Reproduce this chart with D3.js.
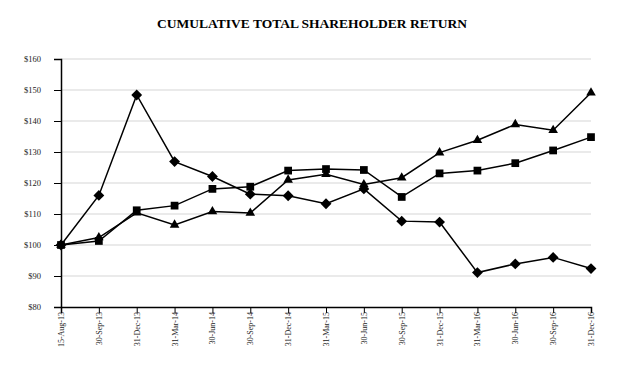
<!DOCTYPE html>
<html><head><meta charset="utf-8">
<script src="https://cdn.jsdelivr.net/npm/d3@7"></script>
<style>body{margin:0;background:#fff}</style>
</head><body>
<svg id="c" width="624" height="381"></svg>
<script>
const categories = ["15-Aug-13","30-Sep-13","31-Dec-13","31-Mar-14","30-Jun-14","30-Sep-14","31-Dec-14","31-Mar-15","30-Jun-15","30-Sep-15","31-Dec-15","31-Mar-16","30-Jun-16","30-Sep-16","31-Dec-16"];
const diamondValues = [100,116,148.4,126.9,122.1,116.4,115.9,113.3,118.1,107.7,107.4,91.1,93.9,96.0,92.4];
const squareValues = [100,101.3,111.2,112.7,118.1,118.8,124.0,124.5,124.2,115.5,123.1,124.0,126.4,130.5,134.8];
const triangleValues = [100,102.4,110.4,106.5,110.8,110.3,121.0,122.8,119.5,121.7,129.8,133.8,138.9,137.0,149.1];
const yTicks = [80,90,100,110,120,130,140,150,160];

const svg = d3.select("#c");
const x = d3.scalePoint().domain(categories).range([61, 591]);
const y = d3.scaleLinear().domain([80,160]).range([307, 59]);

svg.append("text").attr("x", 312).attr("y", 28).attr("text-anchor","middle")
  .attr("font-family","Liberation Serif, Times New Roman, serif").attr("font-weight","bold")
  .attr("font-size", 13.5).text("CUMULATIVE TOTAL SHAREHOLDER RETURN");

// grid
svg.append("g").selectAll("line").data(yTicks.filter(d=>d>80)).join("line")
  .attr("x1", 61).attr("x2", 591).attr("y1", d=>y(d)).attr("y2", d=>y(d))
  .attr("stroke","#e3e3e3").attr("stroke-width",1.5);

const yAxis = svg.append("g").attr("transform","translate(61,0)")
  .call(d3.axisLeft(y).tickValues(yTicks).tickFormat(d=>"$"+d).tickSize(7).tickPadding(13));
yAxis.select(".domain").attr("stroke","#000").attr("stroke-width",1.5);
yAxis.selectAll(".tick line").attr("stroke","#000");
yAxis.selectAll("text").attr("font-family","Liberation Serif, Times New Roman, serif").attr("font-size",8.5).attr("fill","#222");

const xAxis = svg.append("g").attr("transform","translate(0,307)")
  .call(d3.axisBottom(x).tickSize(6).tickPadding(4));
xAxis.select(".domain").attr("stroke","#000").attr("stroke-width",1.5);
xAxis.selectAll(".tick line").attr("stroke","#000");
xAxis.selectAll("text").attr("font-family","Liberation Serif, Times New Roman, serif").attr("font-size",8)
  .attr("fill","#222").attr("text-anchor","end").attr("transform","rotate(-90)")
  .attr("x",-5).attr("y",0).attr("dy","0.32em");

const line = d3.line().x((d,i)=>x(categories[i])).y(d=>y(d));
const series = [
  {vals: diamondValues, sym: d3.symbolDiamond2, size: 75, rot: 0},
  {vals: squareValues, sym: d3.symbolSquare, size: 60, rot: 0},
  {vals: triangleValues, sym: d3.symbolTriangle, size: 40, rot: 0}
];
series.forEach(s=>{
  svg.append("path").datum(s.vals).attr("d", line).attr("fill","none").attr("stroke","#000").attr("stroke-width",1.5);
});
series.forEach(s=>{
  svg.append("g").selectAll("path").data(s.vals).join("path")
    .attr("transform",(d,i)=>`translate(${x(categories[i])},${y(d)})`)
    .attr("d", d3.symbol().type(s.sym).size(s.size)).attr("fill","#000");
});
</script>
</body></html>
